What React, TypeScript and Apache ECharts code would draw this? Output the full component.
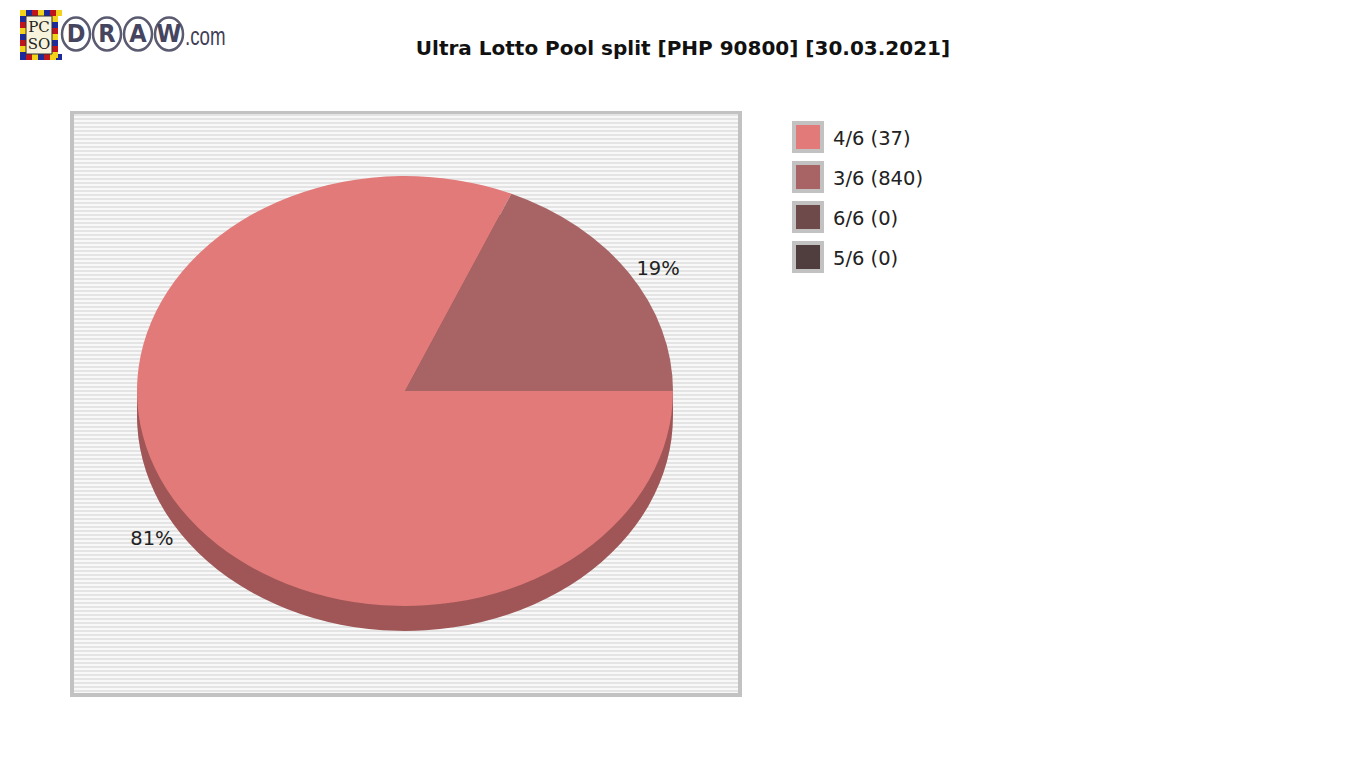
import { useEffect, useRef } from 'react';
import * as echarts from 'echarts';

// pool split per prize tier
const categories = ['4/6', '3/6', '6/6', '5/6'];
const winners = [37, 840, 0, 0];
const poolShare = [74000, 16800, 0, 0];
const topColors = ['#e27a7a', '#a86464', '#6e4a4a', '#503e3e'];
const sideColors = ['#a05656', '#7a4747', '#503535', '#3a2d2d'];

const TITLE = 'Ultra Lotto Pool split [PHP 90800] [30.03.2021]';

// pie geometry (page px)
const CX = 405;
const CY = 391;
const RX = 268;
const RY = 215;
const DEPTH = 25;

const FONT = '"DejaVu Sans", Verdana, sans-serif';

function sliceAngles(idx: number) {
  const total = poolShare.reduce((a, b) => a + b, 0);
  const before = poolShare.slice(0, idx).reduce((a, b) => a + b, 0);
  const start = (before / total) * Math.PI * 2;
  const end = start + (poolShare[idx] / total) * Math.PI * 2;
  return { start, end, pct: poolShare[idx] / total };
}

function txt(text: string, x: number, y: number, size: number, extra: any = {}) {
  return {
    type: 'text',
    x,
    y,
    silent: true,
    style: {
      text,
      fill: extra.fill || '#222',
      fontSize: size,
      fontFamily: extra.family || FONT,
      fontWeight: extra.weight || 'normal',
      align: extra.align || 'left',
      textAlign: extra.align || 'left',
      verticalAlign: 'middle',
      textVerticalAlign: 'middle',
    },
    scaleX: extra.scaleX ?? 1,
  };
}

function buildBackground() {
  const els: any[] = [];
  els.push({ type: 'rect', shape: { x: 70, y: 111, width: 672, height: 586 }, style: { fill: '#c2c2c2' }, silent: true });
  els.push({ type: 'rect', shape: { x: 74, y: 114, width: 664, height: 579 }, style: { fill: '#f8f8f8' }, silent: true });
  for (let y = 114; y < 693; y += 4) {
    els.push({
      type: 'rect',
      shape: { x: 74, y, width: 664, height: Math.min(2, 693 - y) },
      style: { fill: '#e4e4e4' },
      silent: true,
    });
  }
  return els;
}

function buildLegend() {
  return categories.flatMap((c, i) => {
    const y = 121 + i * 40;
    return [
      { type: 'rect', shape: { x: 792, y, width: 32, height: 32 }, style: { fill: '#c2c2c2' }, silent: true },
      { type: 'rect', shape: { x: 796, y: y + 4, width: 24, height: 24 }, style: { fill: topColors[i] }, silent: true },
      txt(`${c} (${winners[i]})`, 833, y + 17, 19.5),
    ];
  });
}

function buildLogo() {
  const els: any[] = [];
  const palette = ['#f3d21a', '#1c2a9c', '#c0141c'];
  // checkered frame
  els.push({ type: 'rect', shape: { x: 20, y: 10, width: 38, height: 50 }, style: { fill: '#f3d21a' }, silent: true });
  let k = 0;
  for (let x = 20; x < 58; x += 6) {
    els.push({ type: 'rect', shape: { x, y: 10, width: 6, height: 6 }, style: { fill: palette[k % 3] }, silent: true });
    els.push({ type: 'rect', shape: { x, y: 54, width: 6, height: 6 }, style: { fill: palette[(k + 1) % 3] }, silent: true });
    k++;
  }
  for (let y = 16; y < 54; y += 6) {
    els.push({ type: 'rect', shape: { x: 20, y, width: 6, height: 6 }, style: { fill: palette[k % 3] }, silent: true });
    els.push({ type: 'rect', shape: { x: 52, y, width: 6, height: 6 }, style: { fill: palette[(k + 2) % 3] }, silent: true });
    k++;
  }
  els.push({ type: 'rect', shape: { x: 26, y: 16, width: 26, height: 38 }, style: { fill: '#f6f2dc', stroke: '#333', lineWidth: 1 }, silent: true });
  els.push(txt('PC', 39, 27, 15, { align: 'center', family: '"DejaVu Serif", serif', fill: '#222' }));
  els.push(txt('SO', 39, 44, 15, { align: 'center', family: '"DejaVu Serif", serif', fill: '#222' }));
  const letters = ['D', 'R', 'A', 'W'];
  const xs = [76, 107, 138, 169];
  letters.forEach((l, i) => {
    els.push({
      type: 'ellipse',
      shape: { cx: xs[i], cy: 34, rx: 14, ry: 16.5 },
      style: { fill: '#ffffff', stroke: '#5a5a70', lineWidth: 2.5 },
      silent: true,
    });
    els.push(txt(l, xs[i], 34, 25, { align: 'center', fill: '#454560', weight: 'bold', scaleX: 0.9 }));
  });
  els.push(txt('.com', 185, 36, 26, { fill: '#3f3f58', family: '"Liberation Sans", Arial, sans-serif', scaleX: 0.72 }));
  return els;
}

export default function App() {
  const ref = useRef<HTMLDivElement>(null);

  useEffect(() => {
    document.body.style.margin = '0';
    const el = ref.current;
    if (!el) return;
    const chart = echarts.init(el, undefined, { renderer: 'svg' });

    const data = categories.map((c, i) => ({ name: c, value: poolShare[i] }));

    chart.setOption({
      animation: false,
      backgroundColor: '#ffffff',
      title: {
        text: TITLE,
        left: 'center',
        top: 33,
        textStyle: { fontFamily: FONT, fontSize: 20, fontWeight: 'bold', color: '#111' },
      },
      graphic: [
        { type: 'group', z: -10, children: buildBackground() },
        { type: 'group', children: buildLegend() },
        { type: 'group', children: buildLogo() },
      ],
      series: [
        {
          type: 'custom',
          name: 'side',
          coordinateSystem: 'none',
          z: 2,
          data,
          renderItem: (params: any) => {
            const i = params.dataIndex;
            if (!poolShare[i]) return null;
            const a = sliceAngles(i);
            return {
              type: 'group',
              x: CX,
              y: CY + DEPTH,
              scaleY: RY / RX,
              children: [
                {
                  type: 'sector',
                  shape: { cx: 0, cy: 0, r0: 0, r: RX, startAngle: a.start, endAngle: a.end, clockwise: true },
                  style: { fill: sideColors[i] },
                },
              ],
            };
          },
        },
        {
          type: 'custom',
          name: 'side-band',
          coordinateSystem: 'none',
          z: 2,
          data,
          renderItem: (params: any) => {
            const i = params.dataIndex;
            if (!poolShare[i]) return null;
            const a = sliceAngles(i);
            const children: any[] = [];
            // side wall at the left/right extremes of the ellipse
            [0, Math.PI].forEach((ang) => {
              const inside = ang === 0 ? a.start === 0 : a.start <= ang && a.end >= ang;
              if (inside) {
                const x = CX + Math.cos(ang) * RX;
                children.push({
                  type: 'rect',
                  shape: { x: ang === 0 ? x - 2 : x, y: CY, width: 2, height: DEPTH },
                  style: { fill: sideColors[i] },
                });
              }
            });
            return { type: 'group', children };
          },
        },
        {
          type: 'custom',
          name: 'top',
          coordinateSystem: 'none',
          z: 3,
          data,
          renderItem: (params: any) => {
            const i = params.dataIndex;
            if (!poolShare[i]) return null;
            const a = sliceAngles(i);
            const mid = (a.start + a.end) / 2;
            const lx = CX + Math.cos(mid) * RX * 1.13;
            const ly = CY + DEPTH / 2 + Math.sin(mid) * RY * 1.14;
            return {
              type: 'group',
              children: [
                {
                  type: 'group',
                  x: CX,
                  y: CY,
                  scaleY: RY / RX,
                  children: [
                    {
                      type: 'sector',
                      shape: { cx: 0, cy: 0, r0: 0, r: RX, startAngle: a.start, endAngle: a.end, clockwise: true },
                      style: { fill: topColors[i] },
                    },
                  ],
                },
                {
                  type: 'text',
                  x: lx,
                  y: ly,
                  style: {
                    text: `${Math.round(a.pct * 100)}%`,
                    fill: '#222',
                    fontSize: 19.5,
                    fontFamily: FONT,
                    align: 'center',
                    textAlign: 'center',
                    verticalAlign: 'middle',
                    textVerticalAlign: 'middle',
                  },
                },
              ],
            };
          },
        },
      ],
    });

    return () => {
      chart.dispose();
    };
  }, []);

  return <div ref={ref} style={{ width: 1366, height: 768 }} />;
}
